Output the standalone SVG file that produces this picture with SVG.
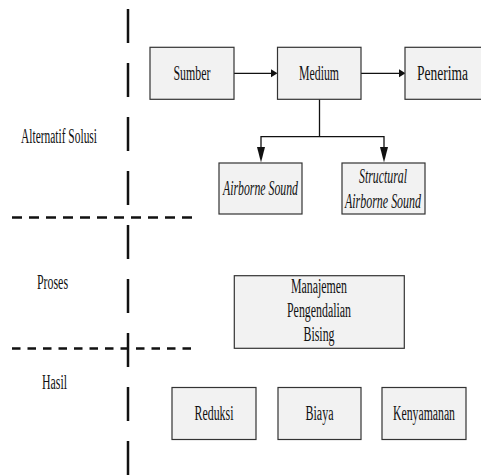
<svg xmlns="http://www.w3.org/2000/svg" width="481" height="476" viewBox="0 0 481 476">
<style>
.box{fill:#f2f2f2;stroke:#333;stroke-width:1.2}
text{font-family:"Liberation Serif","Times New Roman",serif;font-size:20px;fill:#111;text-anchor:middle}
.it{font-style:italic}
.ln{stroke:#111;stroke-width:1.3;fill:none}
.ah{fill:#111}
.dv{stroke:#111;stroke-width:2.5;fill:none}
</style>
<rect width="481" height="476" fill="#fff"/>
<g id="guides">
<line class="dv" x1="128" y1="9" x2="128" y2="476" stroke-dasharray="34 20"/>
<line class="dv" x1="12" y1="217.5" x2="192" y2="217.5" stroke-dasharray="10 7" stroke-width="2.3"/>
<line class="dv" x1="12" y1="348.5" x2="192" y2="348.5" stroke-dasharray="8.5 7" stroke-width="2.3"/>
</g>
<g id="labels">
<text transform="translate(59,143) scale(0.6,1)" textLength="126.7" lengthAdjust="spacingAndGlyphs">Alternatif Solusi</text>
<text transform="translate(52.5,289) scale(0.6,1)" textLength="51.7" lengthAdjust="spacingAndGlyphs">Proses</text>
<text transform="translate(54.5,389) scale(0.6,1)" textLength="41.7" lengthAdjust="spacingAndGlyphs">Hasil</text>
</g>
<g id="connectors">
<line class="ln" x1="234" y1="73.3" x2="272" y2="73.3"/>
<polygon class="ah" points="271,69.3 277.5,73.3 271,77.3"/>
<line class="ln" x1="361" y1="73.3" x2="400" y2="73.3"/>
<polygon class="ah" points="399,69.3 405.5,73.3 399,77.3"/>
<polyline class="ln" points="319.5,99 319.5,136.7"/>
<polyline class="ln" points="261,148 261,136.7 384,136.7 384,148"/>
<polygon class="ah" points="257,147 265,147 261,162.5"/>
<polygon class="ah" points="380,147 388,147 384,162.5"/>
</g>
<g id="sumber">
<rect class="box" x="150" y="47.3" width="84" height="52"/>
<text transform="translate(192,80) scale(0.6,1)" textLength="61.7" lengthAdjust="spacingAndGlyphs">Sumber</text>
</g>
<g id="medium">
<rect class="box" x="277.5" y="47.3" width="83.5" height="52"/>
<text transform="translate(319,80) scale(0.6,1)" textLength="66.7" lengthAdjust="spacingAndGlyphs">Medium</text>
</g>
<g id="penerima">
<rect class="box" x="405" y="47.3" width="90" height="52"/>
<text transform="translate(442.5,80) scale(0.6,1)" textLength="85" lengthAdjust="spacingAndGlyphs">Penerima</text>
</g>
<g id="airborne">
<rect class="box" x="219" y="163" width="83" height="51"/>
<text class="it" transform="translate(260.5,195) scale(0.6,1)" textLength="125" lengthAdjust="spacingAndGlyphs">Airborne Sound</text>
</g>
<g id="structural">
<rect class="box" x="342" y="163" width="83" height="51"/>
<text class="it" transform="translate(383,183) scale(0.6,1)" textLength="80" lengthAdjust="spacingAndGlyphs">Structural</text>
<text class="it" transform="translate(383,208) scale(0.6,1)" textLength="126.7" lengthAdjust="spacingAndGlyphs">Airborne Sound</text>
</g>
<g id="manajemen">
<rect class="box" x="234.3" y="275.7" width="170" height="72.6"/>
<text transform="translate(319,293) scale(0.6,1)" textLength="93.3" lengthAdjust="spacingAndGlyphs">Manajemen</text>
<text transform="translate(319,317) scale(0.6,1)" textLength="106.7" lengthAdjust="spacingAndGlyphs">Pengendalian</text>
<text transform="translate(319,341) scale(0.6,1)" textLength="51.7" lengthAdjust="spacingAndGlyphs">Bising</text>
</g>
<g id="reduksi">
<rect class="box" x="172" y="387.5" width="84" height="52"/>
<text transform="translate(214,420) scale(0.6,1)" textLength="65" lengthAdjust="spacingAndGlyphs">Reduksi</text>
</g>
<g id="biaya">
<rect class="box" x="278" y="387.5" width="83" height="52"/>
<text transform="translate(319.5,420) scale(0.6,1)" textLength="46.7" lengthAdjust="spacingAndGlyphs">Biaya</text>
</g>
<g id="kenyamanan">
<rect class="box" x="382" y="387.5" width="84" height="52"/>
<text transform="translate(424,420) scale(0.6,1)" textLength="103.3" lengthAdjust="spacingAndGlyphs">Kenyamanan</text>
</g>
</svg>
